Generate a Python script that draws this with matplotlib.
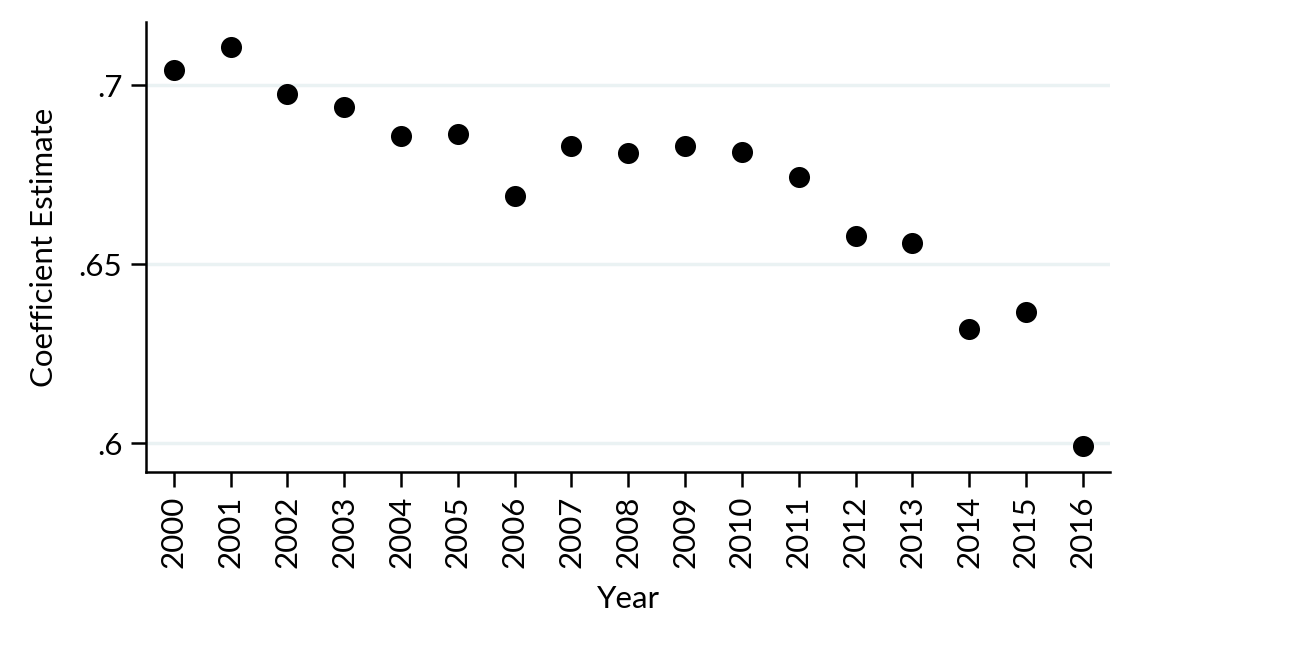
import numpy as np
from matplotlib import pyplot as plt

years = [2000, 2001, 2002, 2003, 2004, 2005, 2006, 2007, 2008,
         2009, 2010, 2011, 2012, 2013, 2014, 2015, 2016]
coef = [0.7042, 0.7106, 0.6975, 0.6939, 0.6858, 0.6863, 0.6690, 0.6830, 0.6810,
        0.6830, 0.6813, 0.6743, 0.6578, 0.6559, 0.6318, 0.6366, 0.5992]
ytick_vals = [0.6, 0.65, 0.7]
ytick_labels = [".6", ".65", ".7"]

plt.rcParams['font.family'] = ['Lato', 'DejaVu Sans']

fig = plt.figure(figsize=(12.96, 6.48), dpi=100)
ax = fig.add_axes([146 / 1296, 1 - 472 / 648, (1110 - 146) / 1296, (472 - 22) / 648])

ax.scatter(years, coef, s=230, color='black', zorder=3, linewidths=0)

ax.set_xlim(1999.51, 2016.48)
ax.set_ylim(0.5919, 0.7176)

ax.set_xticks(years)
ax.set_xticklabels([str(y) for y in years], rotation=90, fontsize=22.5)
ax.set_yticks(ytick_vals)
ax.set_yticklabels(ytick_labels, fontsize=22.5)

ax.grid(axis='y', color='#eaf2f3', linewidth=2.5, zorder=0)
ax.set_axisbelow(True)

for side in ['top', 'right']:
    ax.spines[side].set_visible(False)
for side in ['left', 'bottom']:
    ax.spines[side].set_linewidth(1.8)

ax.tick_params(axis='both', length=11, width=1.8, pad=6)

ax.set_xlabel("Year", fontsize=22.5, labelpad=12)
ax.set_ylabel("Coefficient Estimate", fontsize=22.5, labelpad=15)

fig.savefig("out.png", dpi=100)
